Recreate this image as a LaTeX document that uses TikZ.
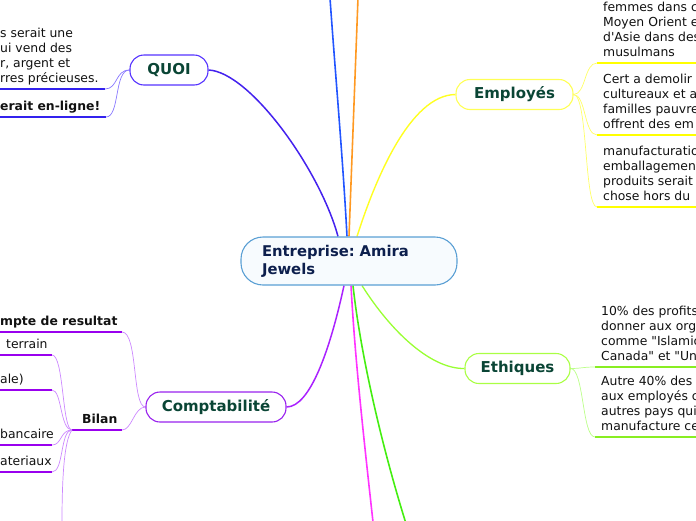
\documentclass[tikz,border=0pt]{standalone}
\usepackage{fontspec}
\setmainfont{DejaVu Sans}
\usetikzlibrary{calc}
\definecolor{cborder}{HTML}{5A9FD4}
\definecolor{cfill}{HTML}{F7FBFE}
\definecolor{navy}{HTML}{0D1F4D}
\definecolor{titlecol}{HTML}{0A4535}
\definecolor{leafcol}{HTML}{111111}
\definecolor{qbranch}{HTML}{4422EE}
\definecolor{qborder}{HTML}{5533FF}
\definecolor{qline}{HTML}{3322EE}
\definecolor{qconn}{HTML}{8877FF}
\definecolor{bluebr}{HTML}{2255FF}
\definecolor{orangebr}{HTML}{FF9922}
\definecolor{ybranch}{HTML}{FFFF22}
\definecolor{yborder}{HTML}{FFFF55}
\definecolor{yline}{HTML}{FFFF00}
\definecolor{yconn}{HTML}{FFFF66}
\definecolor{pbranch}{HTML}{AA22FF}
\definecolor{pborder}{HTML}{9922EE}
\definecolor{pline}{HTML}{9900EE}
\definecolor{pconn}{HTML}{CC88FF}
\definecolor{magbr}{HTML}{FF33FF}
\definecolor{greenbr}{HTML}{44EE11}
\definecolor{lgbranch}{HTML}{99FF33}
\definecolor{lgborder}{HTML}{AAFF44}
\definecolor{lgline}{HTML}{88EE22}
\definecolor{lgconn}{HTML}{BBFF88}
\pgfdeclarelayer{bg}
\pgfsetlayers{bg,main}
\tikzset{
  pill/.style={draw, rounded corners=14pt, minimum height=30pt, inner xsep=0pt, inner ysep=0pt,
    font=\fontsize{15}{18}\selectfont\bfseries, text=titlecol, line width=1.1pt, fill=white},
  leaf/.style={inner sep=0pt, anchor=south west, align=left, font=\fontsize{12.4}{15}\selectfont,
    text=leafcol, execute at begin node=\strut, execute at end node=\strut},
  bleaf/.style={leaf, font=\fontsize{12.4}{15}\selectfont\bfseries},
  branch/.style={line width=1.6pt},
  uline/.style={line width=1.6pt},
  conn/.style={line width=0.7pt},
}
\frenchspacing
\begin{document}
\frenchspacing
\begin{tikzpicture}[x=1pt,y=-1pt]
\useasboundingbox (0,0) rectangle (696,520);
\begin{scope}
\clip (0,0) rectangle (696,520);
% central node
\node[pill, draw=cborder, fill=cfill, rounded corners=22pt, minimum width=216pt, minimum height=48pt,
  text width=174pt, align=left, inner xsep=21pt, font=\fontsize{14.8}{18}\selectfont\bfseries, text=navy]
  (c) at (349,261) {Entreprise: Amira\\Jewels};
% branch nodes
\node[pill, draw=qborder, minimum width=78pt] (quoi) at (169,70) {QUOI};
\node[pill, draw=yborder, minimum width=117pt] (emp) at (514.5,94.5) {Employés};
\node[pill, draw=lgborder, minimum width=105pt] (eth) at (517.5,368.5) {Ethiques};
\node[pill, draw=pborder, minimum width=140pt] (comp) at (216,407) {Comptabilité};
% QUOI leaves
\node[leaf] (q1) at (0,87.5) {s serait une\\ui vend des\\r, argent et\\rres précieuses.};
\node[bleaf] (q2) at (0,115.5) {erait en-ligne!};
% Employes leaves
\node[leaf] (e1) at (603,61.5) {femmes dans c\\Moyen Orient e\\d\textquotesingle Asie dans des\\musulmans};
\node[leaf] (e2) at (603,133.5) {Cert a demolir\\cultureaux et a\\familles pauvre\\offrent des em};
\node[leaf] (e3) at (603,205.5) {manufacturatio\\emballagement\\produits serait\\chose hors du};
% Ethiques leaves
\node[leaf] (t1) at (601,365.5) {10\% des profits\\donner aux org\\comme \textquotedbl Islamic\\Canada\textquotedbl\ et \textquotedbl Un};
\node[leaf] (t2) at (601,435.5) {Autre 40\% des\\aux employés c\\autres pays qui\\manufacture ce};
% Comptabilite leaves
\node[bleaf] (r1) at (0,330.5) {mpte de resultat};
\node[leaf] (b1) at (6,353.5) {terrain};
\node[leaf] (b2) at (0,388.5) {ale)};
\node[bleaf] (bil) at (82,428.5) {Bilan};
\node[leaf] (b3) at (0,443.5) {bancaire};
\node[leaf] (b4) at (0,470.5) {ateriaux};
% coordinates
\coordinate (cQ) at ($(c.north)+(-11,0)$);
\coordinate (cB) at ($(c.north)+(-2,0)$);
\coordinate (cO) at ($(c.north)+(0,0)$);
\coordinate (cY) at ($(c.north)+(8,0)$);
\coordinate (cP) at ($(c.south)+(-5,0)$);
\coordinate (cM) at ($(c.south)+(2,0)$);
\coordinate (cG) at ($(c.south)+(4,0)$);
\coordinate (cL) at ($(c.south)+(13,0)$);
\coordinate (bEnd) at (330,-2);
\coordinate (oEnd) at (358,-2);
\coordinate (mEnd) at (373,522);
\coordinate (gEnd) at (405.5,522);
% underline end points
\coordinate (q1s) at (-5,89);   \coordinate (q1e) at (105,89);
\coordinate (q2s) at (-5,117);  \coordinate (q2e) at (106,117);
\coordinate (e1s) at (597,63);  \coordinate (e1e) at (700,63);
\coordinate (e2s) at (597,135); \coordinate (e2e) at (700,135);
\coordinate (e3s) at (597,207); \coordinate (e3e) at (700,207);
\coordinate (t1s) at (595,367); \coordinate (t1e) at (700,367);
\coordinate (t2s) at (595,437); \coordinate (t2e) at (700,437);
\coordinate (r1s) at (-5,332);  \coordinate (r1e) at (122,332);
\coordinate (b1s) at (-5,355);  \coordinate (b1e) at (52,355);
\coordinate (b2s) at (-5,390);  \coordinate (b2e) at (52,390);
\coordinate (bils) at (72,430); \coordinate (bile) at (122,430);
\coordinate (b3s) at (-5,445);  \coordinate (b3e) at (52,445);
\coordinate (b4s) at (-5,472);  \coordinate (b4e) at (52,472);
\coordinate (bDown) at (62,522);
\end{scope}
\begin{pgfonlayer}{bg}
\clip (0,0) rectangle (696,520);
% main branches
\draw[branch, bluebr] (cB) .. controls (343,160) and (335,70) .. (bEnd);
\draw[branch, orangebr] (cO) -- (oEnd);
\draw[branch, qbranch, line width=1.5pt] (cQ) .. controls (320,170) and (250,72) .. (quoi.east);
\draw[branch, ybranch, line width=1.4pt] (cY) .. controls (375,180) and (410,95) .. (emp.west);
\draw[branch, pbranch, line width=1.5pt] (cP) .. controls (330,350) and (310,407) .. (comp.east);
\draw[branch, magbr] (cM) .. controls (355,360) and (364,440) .. (mEnd);
\draw[branch, greenbr] (cG) .. controls (360,350) and (380,440) .. (gEnd);
\draw[branch, lgbranch, line width=1.3pt] (cL) .. controls (390,330) and (430,369) .. (eth.west);
% QUOI
\draw[uline, qline] (q1s) -- (q1e);
\draw[uline, qline] (q2s) -- (q2e);
\draw[conn, qconn] (quoi.west) .. controls (115,70) and (118,89) .. (q1e);
\draw[conn, qconn] (quoi.west) .. controls (114,70) and (120,117) .. (q2e);
% Employes
\draw[uline, yline] (e1s) -- (e1e);
\draw[uline, yline] (e2s) -- (e2e);
\draw[uline, yline] (e3s) -- (e3e);
\draw[conn, yconn] (emp.east) .. controls (586,94.5) and (584,63) .. (e1s);
\draw[conn, yconn] (emp.east) .. controls (586,94.5) and (584,135) .. (e2s);
\draw[conn, yconn] (emp.east) .. controls (588,94.5) and (584,207) .. (e3s);
% Ethiques
\draw[uline, lgline] (t1s) -- (t1e);
\draw[uline, lgline] (t2s) -- (t2e);
\draw[conn, lgconn] (eth.east) .. controls (582,368.5) and (582,367) .. (t1s);
\draw[conn, lgconn] (eth.east) .. controls (584,368.5) and (582,437) .. (t2s);
% Comptabilite
\draw[uline, pline] (r1s) -- (r1e);
\draw[uline, pline] (bils) -- (bile);
\draw[conn, pconn] (comp.west) .. controls (132,407) and (138,332) .. (r1e);
\draw[conn, pconn] (comp.west) .. controls (134,407) and (132,430) .. (bile);
\draw[uline, pline] (b1s) -- (b1e);
\draw[uline, pline] (b2s) -- (b2e);
\draw[uline, pline] (b3s) -- (b3e);
\draw[uline, pline] (b4s) -- (b4e);
\draw[conn, pconn] (bils) .. controls (62,430) and (64,355) .. (b1e);
\draw[conn, pconn] (bils) .. controls (60,430) and (62,390) .. (b2e);
\draw[conn, pconn] (bils) .. controls (60,430) and (62,445) .. (b3e);
\draw[conn, pconn] (bils) .. controls (60,430) and (64,472) .. (b4e);
\draw[conn, pconn] (bils) .. controls (64,440) and (62,480) .. (bDown);
\end{pgfonlayer}
\end{tikzpicture}
\end{document}
